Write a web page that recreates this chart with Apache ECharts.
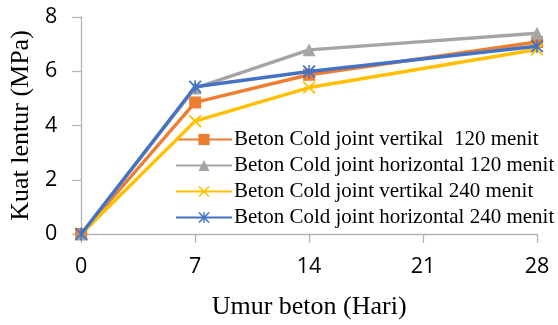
<!DOCTYPE html>
<html>
<head>
<meta charset="utf-8">
<script src="https://cdn.jsdelivr.net/npm/echarts@6/dist/echarts.min.js"></script>
<style>
  html, body { margin: 0; padding: 0; background: #fff; }
  #chart { width: 558px; height: 325px; }
</style>
</head>
<body>
<div id="chart"></div>
<script>
// Concrete age (days) at which flexural strength was tested
const days = [0, 7, 14, 28];
const xTicks = [0, 7, 14, 21, 28];
const yTicks = [0, 2, 4, 6, 8];

// Flexural strength (MPa) per cold-joint variant
const seriesNames = [
  'Beton Cold joint vertikal  120 menit',
  'Beton Cold joint horizontal 120 menit',
  'Beton Cold joint vertikal 240 menit',
  'Beton Cold joint horizontal 240 menit'
];
const vertikal120 = [0, 4.85, 5.87, 7.08];
const horizontal120 = [0, 5.38, 6.79, 7.40];
const vertikal240 = [0, 4.16, 5.40, 6.80];
const horizontal240 = [0, 5.43, 5.99, 6.92];

const colors = ['#ED7D31', '#A5A5A5', '#FFC000', '#4472C4'];

const crossPath = 'path://M0,1L1,0L5,4L9,0L10,1L6,5L10,9L9,10L5,6L1,10L0,9L4,5Z';
const starPath = 'path://M0,1L1,0L5,4L9,0L10,1L6,5L10,9L9,10L5,6L1,10L0,9L4,5Z M4.4,0L5.6,0L5.6,10L4.4,10Z';
const symbols = ['rect', 'triangle', crossPath, starPath];
const symbolSizes = [12, 13, 13, 13];

const values = [vertikal120, horizontal120, vertikal240, horizontal240];

const chart = echarts.init(document.getElementById('chart'), null, { renderer: 'canvas' });

const axisColor = '#b3b3b3';
const tickFont = { fontFamily: 'Open Sans', fontSize: 21.5, color: '#000' };
const nameFont = { fontFamily: 'Liberation Serif', fontSize: 26, color: '#000' };

chart.setOption({
  animation: false,
  backgroundColor: '#fff',
  grid: { left: 80, right: 21, top: 17, bottom: 89 },
  legend: {
    orient: 'vertical',
    left: 170,
    top: 124,
    itemWidth: 56,
    itemHeight: 14,
    itemGap: 5,
    textStyle: { fontFamily: 'Liberation Serif', fontSize: 21, color: '#000', padding: [0, 0, 0, -3] },
    data: seriesNames
  },
  xAxis: {
    type: 'value',
    min: xTicks[0],
    max: xTicks[xTicks.length - 1],
    interval: 7,
    name: 'Umur beton (Hari)',
    nameLocation: 'middle',
    nameGap: 60,
    nameTextStyle: nameFont,
    axisLine: { show: true, lineStyle: { color: axisColor, width: 1.3 } },
    axisTick: { show: true, length: 9, lineStyle: { color: axisColor, width: 1.3 } },
    axisLabel: Object.assign({ margin: 22 }, tickFont),
    splitLine: { show: false }
  },
  yAxis: {
    type: 'value',
    min: yTicks[0],
    max: yTicks[yTicks.length - 1],
    interval: 2,
    name: 'Kuat lentur (MPa)',
    nameLocation: 'middle',
    nameGap: 46,
    nameTextStyle: nameFont,
    axisLine: { show: true, lineStyle: { color: axisColor, width: 1.3 } },
    axisTick: { show: true, length: 9, lineStyle: { color: axisColor, width: 1.3 } },
    axisLabel: Object.assign({ margin: 24 }, tickFont),
    splitLine: { show: false }
  },
  series: values.map((vals, i) => ({
    name: seriesNames[i],
    type: 'line',
    data: days.map((d, j) => [d, vals[j]]),
    symbol: symbols[i],
    symbolSize: symbolSizes[i],
    showAllSymbol: true,
    lineStyle: { color: colors[i], width: 3.4 },
    itemStyle: { color: colors[i], borderWidth: 0 },
    z: 2 + i
  }))
});
</script>
</body>
</html>
